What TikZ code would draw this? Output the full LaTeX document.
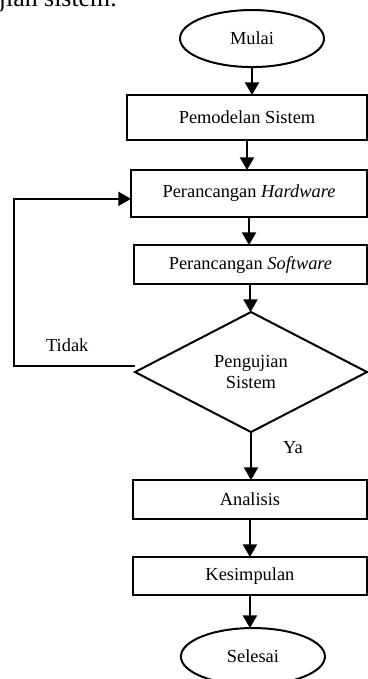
\documentclass[tikz,border=0pt]{standalone}
\usepackage{fontspec}
\setmainfont{Liberation Serif}
\usetikzlibrary{arrows.meta,positioning,shapes}

\begin{document}
\begin{tikzpicture}[node distance=21pt, >={Triangle[width=10.5pt,length=9.5pt]}, font=\fontsize{13.8}{15.8}\selectfont]
	\tikzstyle{rect}=[draw, rectangle, line width=1.2pt, outer sep=0pt, text centered, inner sep=0pt]
	\tikzstyle{circ}=[draw, ellipse, line width=1.5pt, outer sep=0pt, minimum width=108pt, minimum height=42.75pt]
	\tikzstyle{dec}=[draw, diamond, aspect=2, line width=1.5pt, outer sep=0pt, align=center, minimum width=174pt, minimum height=90pt, inner sep=0pt]
	\tikzstyle{line}=[->, line width=1.5pt]

	\useasboundingbox (0,0) rectangle (276pt,-509.25pt);
	\clip (0,0) rectangle (276pt,-509.25pt);

	\node[anchor=base west, inner sep=0pt, font=\fontsize{19.4}{22}\selectfont] (intro) at (-1pt,-4.5pt) {jian sistem.};

	\node[circ] (mulai) at (189pt,-28.9pt) {Mulai};
	\node[rect, minimum width=180pt, minimum height=33.75pt] (model) [below=21pt of mulai, xshift=-3.75pt] {Pemodelan Sistem};
	\node[rect, minimum width=177pt, minimum height=35.25pt] (hw) [below=22.5pt of model, xshift=1.5pt] {Perancangan \textit{Hardware}};
	\node[rect, minimum width=174.75pt, minimum height=29.25pt] (sw) [below=21pt of hw, xshift=1.1pt] {Perancangan \textit{Software}};
	\node[dec] (test) [below=21pt of sw, xshift=0.4pt] {Pengujian\\Sistem};
	\node[rect, minimum width=175.5pt, minimum height=29.25pt] (ana) [below=36pt of test, xshift=-0.8pt] {Analisis};
	\node[rect, minimum width=175.5pt, minimum height=28.5pt] (kes) [below=28.5pt of ana] {Kesimpulan};
	\node[circ] (selesai) [below=24.75pt of kes, xshift=2.25pt] {Selesai};

	\draw[line] (mulai) -- (mulai |- model.north);
	\draw[line] (model) -- (model |- hw.north);
	\draw[line] (hw) -- (hw |- sw.north);
	\draw[line] (sw) -- (sw |- test.north);
	\draw[line] (test) -- node[pos=0.33, right=20pt] (ya) {Ya} (test |- ana.north);
	\draw[line] (ana) -- (ana |- kes.north);
	\draw[line] (kes) -- (kes |- selesai.north);
	\draw[line] ([yshift=4.5pt]test.west) -- node[pos=0.56, above=7pt] (tidak) {Tidak} ++(-90.75pt,0) |- ([yshift=-4pt]hw.west);
\end{tikzpicture}
\end{document}
